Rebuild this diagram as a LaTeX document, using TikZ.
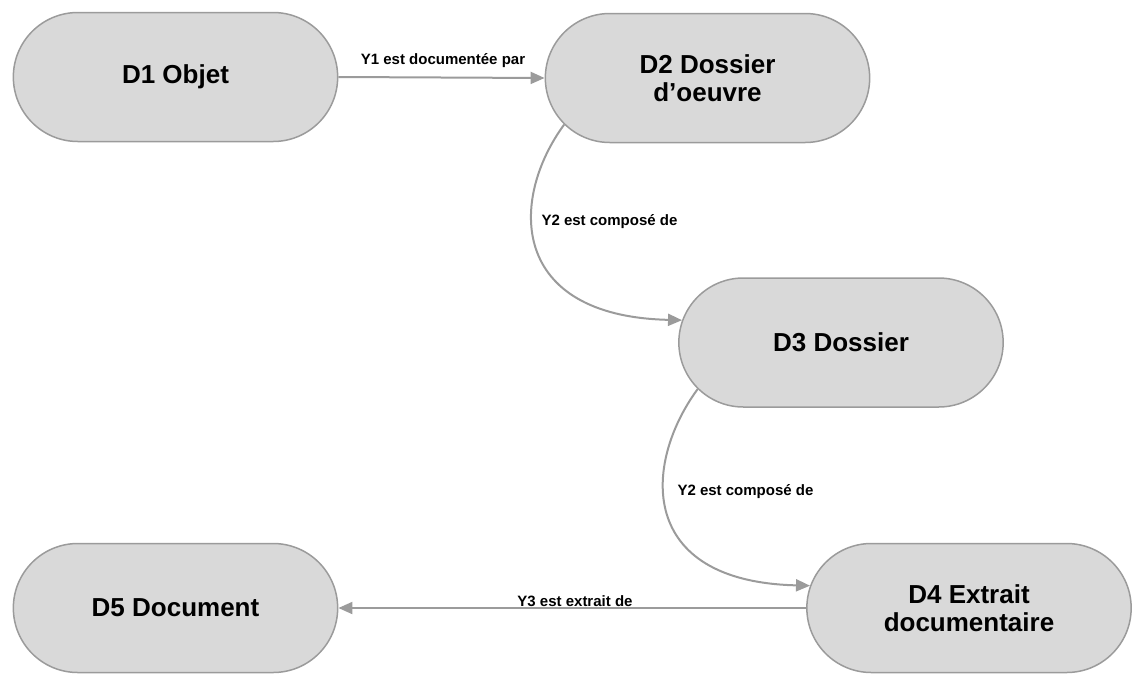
\documentclass[tikz,border=0pt]{standalone}
\usepackage{fontspec}
\setmainfont{Liberation Sans}
\usepackage{tikz}
\usetikzlibrary{shapes.misc}
\usetikzlibrary{arrows.meta}

\definecolor{boxfill}{HTML}{D9D9D9}
\definecolor{boxline}{HTML}{9B9B9B}
\definecolor{linkgray}{HTML}{9B9B9B}

\begin{document}
\begin{tikzpicture}[x=1pt,y=-1pt,
  entity/.style={rounded rectangle,draw=boxline,fill=boxfill,line width=1.5pt,
    minimum width=331pt,minimum height=129pt,align=center,
    font=\fontsize{26}{28}\selectfont\bfseries},
  link/.style={draw=linkgray,line width=2pt,-{Triangle[length=14pt,width=12pt]}},
  linklabel/.style={font=\fontsize{15}{17}\selectfont\bfseries}]
  \useasboundingbox (0,0) rectangle (1132,675);
  \node[entity] (d1) at (175.5,77) {D1 Objet};
  \node[entity] (d2) at (707.5,78) {D2 Dossier\\d'oeuvre};
  \node[entity] (d3) at (841,342.5) {D3 Dossier};
  \node[entity] (d4) at (969,608) {D4 Extrait\\documentaire};
  \node[entity] (d5) at (175.5,608) {D5 Document};
  \draw[link] (d1.east) -- (d2.west);
  \node[linklabel] (y1) at (443,61) {Y1 est documentée par};
  \draw[link] (d2.198) .. controls +(-55,75) and +(-173,-4) .. (d3.172);
  \node[linklabel,anchor=west] (y2a) at (538,222) {Y2 est composé de};
  \draw[link] (d3.198) .. controls +(-55,75) and +(-173,-4) .. (d4.172);
  \node[linklabel,anchor=west] (y2b) at (674,492) {Y2 est composé de};
  \draw[link] (d4.west) -- (d5.east);
  \node[linklabel] (y3) at (575,601) {Y3 est extrait de};
\end{tikzpicture}
\end{document}
